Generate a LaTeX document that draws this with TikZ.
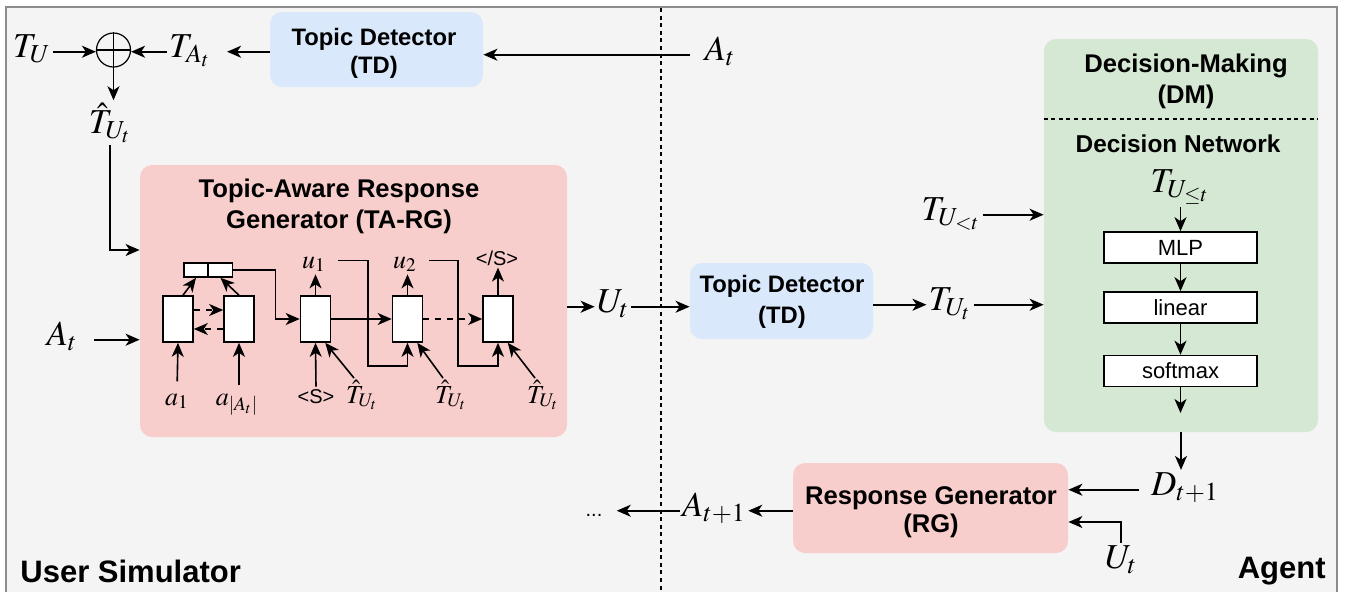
\documentclass[tikz,border=0pt]{standalone}
\usepackage{mathptmx}
\usepackage[no-math]{fontspec}
\setmainfont{Liberation Sans}
\usetikzlibrary{arrows.meta}

\definecolor{bgpanel}{HTML}{F4F4F4}
\definecolor{framegray}{HTML}{8C8C8C}
\definecolor{tdblue}{HTML}{DAE8FC}
\definecolor{rgred}{HTML}{F8CECC}
\definecolor{dmgreen}{HTML}{D5E8D4}

\begin{document}
\begin{tikzpicture}[x=0.5pt, y=-0.5pt, >={Stealth[length=7pt,width=6pt,inset=2pt]},
  module/.style={rounded corners=6pt, inner sep=0pt},
  title/.style={align=center, inner sep=0pt, font=\fontsize{12.8}{15.5}\selectfont\bfseries},
  td title/.style={title, font=\fontsize{11.9}{14}\selectfont\bfseries},
  cell/.style={draw, thick, fill=white, minimum width=15pt, minimum height=23pt, inner sep=0pt},
  slot/.style={draw, thick, fill=white, minimum width=12pt, minimum height=7pt, inner sep=0pt},
  layer/.style={draw, thick, fill=white, minimum width=76.5pt, minimum height=15.5pt,
    inner sep=0pt, font=\fontsize{11}{13}\selectfont},
  var/.style={anchor=base, inner sep=1pt, font=\fontsize{17.5}{20}\selectfont},
  small var/.style={anchor=base, inner sep=1pt, font=\fontsize{13}{15}\selectfont},
  tok/.style={anchor=base, inner sep=1pt, font=\fontsize{10}{12}\selectfont},
  side/.style={inner sep=0pt, font=\fontsize{15.5}{18}\selectfont\bfseries}]

  % page and panel
  \useasboundingbox (0,0) rectangle (1345,591);
  \clip (0,0) rectangle (1345,591);
  \fill[white] (0,0) rectangle (1345,591);
  \draw[framegray, line width=1.1pt, fill=bgpanel] (6,7) rectangle (1337,620);
  \draw[thick, dash pattern=on 2pt off 1.8pt] (661,8) -- (661,591);

  % modules
  \node[module, fill=tdblue, minimum width=106.5pt, minimum height=37.5pt] (td1) at (376.5,49.5) {};
  \node[td title] (td1text) at (374,53) {Topic Detector\\(TD)};
  \node[module, fill=rgred, minimum width=213.5pt, minimum height=136pt] (targ) at (353.5,301) {};
  \node[title] (targtitle) at (339,206) {Topic-Aware Response\\Generator (TA-RG)};
  \node[module, fill=tdblue, minimum width=91.5pt, minimum height=38pt] (td2) at (781.5,301) {};
  \node[td title, font=\fontsize{11.9}{15.5}\selectfont\bfseries] (td2text) at (782,302) {Topic Detector\\(TD)};
  \node[module, fill=dmgreen, minimum width=137pt, minimum height=196.5pt] (dm) at (1181,235.5) {};
  \node[title] (dmtitle) at (1186,81) {Decision-Making\\(DM)};
  \draw[thick, dash pattern=on 2pt off 1.8pt] (dm.west |- 0,119) -- (dm.east |- 0,119);
  \node[title, font=\fontsize{12.2}{14}\selectfont\bfseries, anchor=base] (dntitle) at (1178,152) {Decision Network};
  \node[module, fill=rgred, minimum width=137.5pt, minimum height=45pt] (rg) at (930.5,508) {};
  \node[title, font=\fontsize{12.8}{14}\selectfont\bfseries] (rgtext) at (931,512) {Response Generator\\(RG)};

  % topic fusion
  \node[var] (tu) at (32,57) {$T_U$};
  \node[draw, circle, line width=0.6pt, minimum size=17pt, inner sep=0pt] (plus) at (113.5,50) {};
  \draw[line width=0.6pt] (plus.north) -- (plus.south) (plus.west) -- (plus.east);
  \node[var] (ta) at (190,57) {$T_{A_t}$};
  \node[var] (that) at (110,133) {$\hat{T}_{U_t}$};
  \node[var] (attop) at (720,60) {$A_t$};
  \draw[->, thick] (tu.mid east) -- (tu.mid east -| plus.west);
  \draw[->, thick] (ta.mid west) -- (ta.mid west -| plus.east);
  \draw[->, thick, shorten >=7pt] (td1.west |- ta.mid east) -- (ta.mid east);
  \draw[->, thick, shorten <=6pt] (attop.mid west) -- (attop.mid west -| td1.east);
  \draw[->, thick] (plus.south) -- (plus.south |- that.north);
  \draw[->, thick] (that.south) |- (targ.west |- 0,250);

  % TA-RG internals
  \node[cell] (e1) at (178,319) {};
  \node[cell] (e2) at (239,319) {};
  \node[slot] (c1) at (196,270) {};
  \node[slot] (c2) at (220.5,270) {};
  \node[cell] (d1) at (315.5,319) {};
  \node[cell] (d2) at (407.5,319) {};
  \node[cell] (d3) at (498,319) {};
  \node[small var] (u1) at (314,268) {$u_1$};
  \node[small var] (u2) at (405,268) {$u_2$};
  \node[tok] (eos) at (497,265) {</S>};
  \node[small var] (a1) at (177,405) {$a_1$};
  \node[small var] (an) at (237,405) {$a_{|A_t|}$};
  \node[tok] (bos) at (316,403) {<S>};
  \node[small var] (h1) at (362,403) {$\hat{T}_{U_t}$};
  \node[small var] (h2) at (451,403) {$\hat{T}_{U_t}$};
  \node[small var] (h3) at (543,403) {$\hat{T}_{U_t}$};
  \draw[->, thick, shorten <=5pt] (a1.north) -- (e1.south);
  \draw[->, thick, shorten <=3pt] (an.north -| e2.south) -- (e2.south);
  \draw[->, thick] ([xshift=2.5pt]e1.north) -- (c1.south);
  \draw[->, thick] (e2.north) -- (c2.south);
  \draw[->, thick, dashed] ([yshift=4.5pt]e1.east) -- ([yshift=4.5pt]e2.west);
  \draw[->, thick, dashed] ([yshift=-5pt]e2.west) -- ([yshift=-5pt]e1.east);
  \draw[->, thick] (c2.east) -- ++(21pt,0) |- (d1.west);
  \draw[->, thick] (d1.east) -- (d2.west);
  \draw[->, thick, dashed] (d2.east) -- (d3.west);
  \draw[->, thick] (d1.north) -- (u1.south -| d1.north);
  \draw[->, thick] (d2.north) -- (u2.south -| d2.north);
  \draw[->, thick] (d3.north) -- (eos.south -| d3.north);
  \draw[->, thick] (bos.north) -- (d1.south);
  \draw[->, thick] ([xshift=-4pt]h1.north) -- ([xshift=-3pt]d1.south east);
  \draw[->, thick] ([xshift=-4pt]h2.north) -- ([xshift=-3pt]d2.south east);
  \draw[->, thick] ([xshift=-4pt]h3.north) -- ([xshift=-3pt]d3.south east);
  \draw[->, thick] ([xshift=5pt,yshift=2pt]u1.east) -| (368,366) -| (d2.south);
  \draw[->, thick] ([xshift=5pt,yshift=2pt]u2.east) -| (458,366) -| (d3.south);

  % simulator in/out
  \node[var] (atl) at (62,345) {$A_t$};
  \node[var] (ut) at (613,312) {$U_t$};
  \draw[->, thick, shorten <=7pt] (atl.mid east) -- (atl.mid east -| targ.west);
  \draw[->, thick] (targ.east |- ut.mid west) -- (ut.mid west);
  \draw[->, thick] (ut.mid east) -- (ut.mid east -| td2.west);

  % agent side
  \node[var] (tut) at (950,310) {$T_{U_t}$};
  \node[var] (tult) at (951,220) {$T_{U_{<t}}$};
  \node[var] (tule) at (1180,192) {$T_{U_{\leq t}}$};
  \node[layer] (mlp) at (1180.5,247.5) {MLP};
  \node[layer] (lin) at (1180.5,307.5) {linear};
  \node[layer] (soft) at (1180.5,371) {softmax};
  \coordinate (dmout) at (1180.5,413);
  \draw[->, thick] (td2.east |- tut.mid west) -- (tut.mid west);
  \draw[->, thick] (tut.mid east) -- (tut.mid east -| dm.west);
  \draw[->, thick] (tult.mid east) -- (tult.mid east -| dm.west);
  \draw[->, thick] (tule.south -| mlp.north) -- (mlp.north);
  \draw[->, thick] (mlp) -- (lin);
  \draw[->, thick] (lin) -- (soft);
  \draw[->, thick] (soft) -- (dmout);

  % response generation
  \node[var] (dnext) at (1185,495) {$D_{t+1}$};
  \node[var] (ub) at (1121,568) {$U_t$};
  \node[var] (anext) at (714,516) {$A_{t+1}$};
  \node[tok] (dots) at (594,516) {...};
  \draw[->, thick] (dm.south) -- (dm.south |- dnext.north);
  \draw[->, thick, shorten <=5pt] (dnext.mid west) -- (dnext.mid west -| rg.east);
  \draw[->, thick] (ub.north) |- ([yshift=-7pt]rg.east);
  \draw[->, thick] (rg.west |- anext.mid east) -- (anext.mid east);
  \draw[->, thick, shorten >=6pt] (anext.mid west) -- (anext.mid west -| dots.east);

  % panel names
  \node[side, anchor=base west] (usim) at (20,582) {User Simulator};
  \node[side, anchor=base east] (agent) at (1326,578) {Agent};
\end{tikzpicture}
\end{document}
